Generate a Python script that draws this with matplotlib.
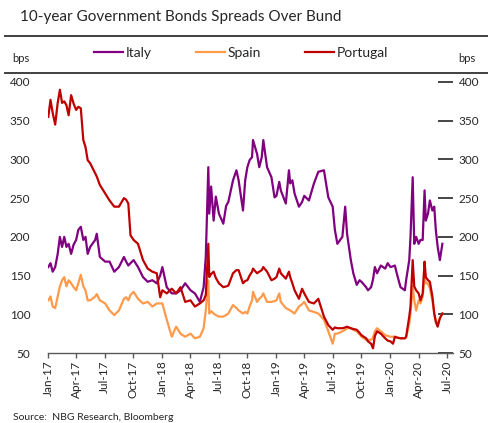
import pandas as pd
import matplotlib
matplotlib.use("Agg")
import matplotlib.pyplot as plt
import matplotlib.dates as mdates
import matplotlib.transforms as mtransforms
from matplotlib.lines import Line2D

# ------------------------------------------------
# Data (bps over Bund)
# ------------------------------------------------
dates = [
    "2017-01-02", "2017-01-09", "2017-01-16", "2017-01-24", "2017-02-01", "2017-02-08",
    "2017-02-15", "2017-02-22", "2017-03-01", "2017-03-08", "2017-03-16", "2017-03-24",
    "2017-04-01", "2017-04-08", "2017-04-16", "2017-04-24", "2017-05-01", "2017-05-08",
    "2017-05-16", "2017-06-01", "2017-06-06", "2017-06-16", "2017-07-03", "2017-07-17",
    "2017-08-01", "2017-08-16", "2017-09-01", "2017-09-08", "2017-09-15", "2017-09-22",
    "2017-10-02", "2017-10-16", "2017-11-01", "2017-11-16", "2017-12-01", "2017-12-15",
    "2017-12-26", "2018-01-02", "2018-01-16", "2018-02-01", "2018-02-15", "2018-03-01",
    "2018-03-16", "2018-04-02", "2018-04-16", "2018-05-02", "2018-05-14", "2018-05-21",
    "2018-05-29", "2018-06-01", "2018-06-07", "2018-06-15", "2018-06-22", "2018-07-02",
    "2018-07-16", "2018-07-25", "2018-08-01", "2018-08-16", "2018-08-27", "2018-09-03",
    "2018-09-17", "2018-09-24", "2018-10-01", "2018-10-08", "2018-10-16", "2018-10-19",
    "2018-11-01", "2018-11-08", "2018-11-16", "2018-11-21", "2018-12-03", "2018-12-17",
    "2018-12-27", "2019-01-02", "2019-01-11", "2019-01-16", "2019-02-01", "2019-02-11",
    "2019-02-15", "2019-02-22", "2019-03-01", "2019-03-15", "2019-03-25", "2019-04-01",
    "2019-04-16", "2019-05-02", "2019-05-16", "2019-06-03", "2019-06-17", "2019-07-01",
    "2019-07-08", "2019-07-16", "2019-08-01", "2019-08-10", "2019-08-16", "2019-08-28",
    "2019-09-05", "2019-09-16", "2019-09-25", "2019-10-01", "2019-10-16", "2019-10-22",
    "2019-11-01", "2019-11-07", "2019-11-13", "2019-11-20", "2019-12-02", "2019-12-16",
    "2019-12-24", "2020-01-02", "2020-01-10", "2020-01-16", "2020-01-22", "2020-02-03",
    "2020-02-17", "2020-02-21", "2020-03-02", "2020-03-06", "2020-03-13", "2020-03-18",
    "2020-03-24", "2020-04-01", "2020-04-07", "2020-04-14", "2020-04-20", "2020-04-24",
    "2020-05-01", "2020-05-07", "2020-05-15", "2020-05-21", "2020-05-26", "2020-06-01",
    "2020-06-08", "2020-06-16",
]

italy = [
    161, 166, 155, 161, 178, 200, 187, 200, 187, 191, 178, 190,
    196, 209, 213, 196, 200, 178, 187, 196, 204, 174, 168, 168,
    155, 161, 174, 168, 163, 166, 170, 161, 148, 142, 144, 140,
    150, 161, 135, 127, 127, 131, 140, 131, 127, 116, 135, 175,
    290, 230, 265, 221, 252, 230, 217, 240, 245, 273, 286, 273,
    234, 273, 290, 299, 303, 325, 307, 290, 303, 325, 290, 277,
    251, 253, 271, 260, 243, 286, 269, 273, 256, 239, 245, 253,
    247, 269, 284, 286, 251, 239, 209, 191, 200, 239, 204, 170,
    153, 138, 144, 142, 135, 131, 135, 145, 161, 153, 163, 159,
    166, 161, 162, 163, 153, 135, 131, 144, 170, 200, 277, 191,
    200, 191, 196, 196, 260, 221, 230, 247, 234, 239, 209, 187,
    170, 191,
]

spain = [
    118, 123, 110, 108, 123, 136, 144, 148, 136, 144, 140, 135,
    131, 140, 151, 136, 131, 118, 118, 123, 126, 118, 114, 105,
    99, 105, 120, 122, 118, 125, 129, 120, 114, 116, 110, 114,
    114, 114, 93, 71, 84, 75, 71, 75, 69, 71, 82, 105,
    144, 101, 104, 101, 99, 97, 97, 99, 101, 112, 108, 105,
    101, 103, 101, 110, 118, 129, 116, 120, 123, 127, 116, 116,
    117, 118, 127, 116, 108, 106, 105, 103, 101, 110, 113, 116,
    105, 103, 101, 93, 78, 62, 75, 75, 78, 80, 82, 82,
    80, 78, 74, 71, 67, 67, 67, 70, 78, 82, 78, 73,
    72, 71, 71, 71, 70, 69, 69, 70, 88, 101, 136, 118,
    105, 118, 114, 123, 148, 140, 140, 133, 118, 101, 92, 88,
    95, 101,
]

portugal = [
    355, 377, 360, 345, 373, 390, 373, 375, 370, 357, 383, 372,
    364, 368, 366, 325, 316, 299, 295, 282, 278, 267, 256, 247,
    239, 239, 250, 248, 243, 202, 196, 191, 170, 159, 155, 153,
    122, 131, 127, 133, 127, 135, 116, 118, 110, 114, 118, 125,
    191, 148, 152, 155, 147, 140, 135, 136, 137, 153, 157, 157,
    140, 143, 144, 150, 155, 159, 153, 155, 157, 161, 155, 144,
    146, 148, 159, 153, 146, 155, 148, 140, 131, 120, 133, 127,
    116, 114, 120, 97, 86, 80, 83, 82, 82, 83, 84, 82,
    81, 80, 76, 73, 69, 65, 62, 56, 72, 78, 75, 69,
    66, 65, 62, 71, 70, 69, 69, 71, 97, 110, 170, 136,
    131, 127, 118, 127, 168, 148, 144, 142, 123, 101, 90, 84,
    95, 101,
]

series_names = ["Italy", "Spain", "Portugal"]
series_colors = ["#800080", "#FF9A4A", "#C00000"]

df = pd.DataFrame({"Italy": italy, "Spain": spain, "Portugal": portugal},
                  index=pd.to_datetime(dates))

# ------------------------------------------------
# Figure
# ------------------------------------------------
plt.rcParams["font.family"] = ["Lato", "DejaVu Sans"]
txt = "#262626"

fig = plt.figure(figsize=(4.9, 4.23), dpi=100)
ax = fig.add_axes([48 / 490, 1 - 353 / 423, (453 - 48) / 490, (353 - 82) / 423])

for name, col in zip(series_names, series_colors):
    ax.plot(df.index, df[name], color=col, lw=1.6, label=name)

ax.set_ylim(50, 400)
ax.set_yticks(range(50, 401, 50))
ax.set_xlim(pd.Timestamp("2017-01-01"), pd.Timestamp("2020-07-20"))
ax.xaxis.set_major_locator(mdates.MonthLocator(bymonth=[1, 4, 7, 10]))
ax.xaxis.set_major_formatter(mdates.DateFormatter("%b-%y"))
plt.setp(ax.get_xticklabels(), rotation=90)

for s in ["top", "left", "right"]:
    ax.spines[s].set_visible(False)
ax.spines["bottom"].set_color("#595959")
ax.spines["bottom"].set_linewidth(1.0)

ax.tick_params(axis="x", direction="out", length=3.5, width=1, color="#595959",
               labelsize=8.5, labelcolor=txt, pad=2)
ax.tick_params(axis="y", left=False, right=True, labelleft=True, labelright=True,
               direction="in", length=11, width=1.2, color="#262626",
               labelsize=8.5, labelcolor=txt, pad=4)

# left labels sit further from the plot (no tick marks there)
shift = mtransforms.ScaledTranslation(-12 / 100, 0, fig.dpi_scale_trans)
for t in ax.yaxis.get_major_ticks():
    t.label1.set_transform(t.label1.get_transform() + shift)

# header: title, rules, legend, units
fig.text(20 / 490, 1 - 17 / 423, "10-year Government Bonds Spreads Over Bund",
         fontsize=11, color=txt, va="center", ha="left")
for yy in [36, 73]:
    fig.add_artist(Line2D([5 / 490, 487 / 490], [1 - yy / 423] * 2,
                          color="#404040", lw=1.4))
fig.text(12 / 490, 1 - 59 / 423, "bps", fontsize=8, color=txt, va="center")
fig.text(458 / 490, 1 - 59 / 423, "bps", fontsize=8, color=txt, va="center")

ax.legend(loc="center", bbox_to_anchor=(241 / 490, 1 - 53 / 423),
          bbox_transform=fig.transFigure, ncol=3, frameon=False,
          fontsize=10, handlelength=2.1, handletextpad=0.15,
          columnspacing=3.2, labelcolor=txt)

fig.text(13 / 490, 1 - 417 / 423, "Source:  NBG Research, Bloomberg",
         fontsize=7.5, color=txt, va="center")

fig.savefig("out.png", dpi=100)
